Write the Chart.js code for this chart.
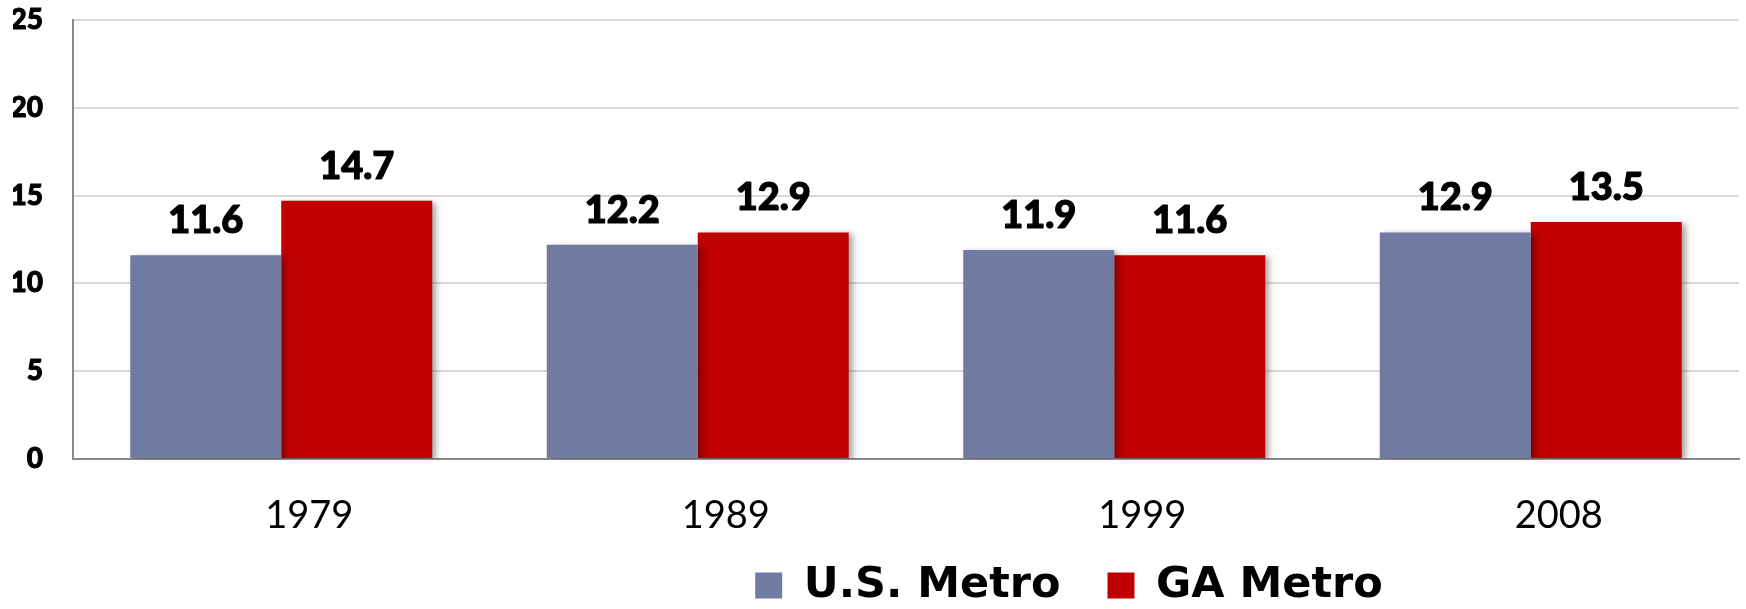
<!DOCTYPE html>
<html>
<head>
<meta charset="utf-8">
<script src="https://cdn.jsdelivr.net/npm/chart.js@4.4.1/dist/chart.umd.min.js"></script>
<style>
  html, body { margin: 0; padding: 0; background: #ffffff; }
  #wrap { width: 1746px; height: 609px; position: relative; }
</style>
</head>
<body>
<div id="wrap"><canvas id="c" width="1746" height="609"></canvas></div>
<script>
const categories = ['1979', '1989', '1999', '2008'];
const usMetro = [11.6, 12.2, 11.9, 12.9];
const gaMetro = [14.7, 12.9, 11.6, 13.5];
const seriesNames = ['U.S. Metro', 'GA Metro'];
const yTicks = [0, 5, 10, 15, 20, 25];

const US_COLOR = '#717ba2';
const GA_COLOR = '#c00000';
const LEGEND_SHIFT_X = 193;
const LEGEND_SHIFT_Y = -22;

const shadowPlugin = {
  id: 'barShadow',
  beforeDatasetsDraw(chart) {
    const ctx = chart.ctx;
    ctx.save();
    ctx.shadowColor = 'rgba(0,0,0,0.35)';
    ctx.shadowBlur = 6;
    ctx.shadowOffsetX = 4;
    ctx.shadowOffsetY = 2;
  },
  afterDatasetsDraw(chart) {
    const ctx = chart.ctx;
    ctx.restore();
    ctx.save();
    ctx.font = '900 38px Lato';
    ctx.fillStyle = '#000000';
    ctx.strokeStyle = '#000000';
    ctx.lineWidth = 1.2;
    ctx.lineJoin = 'round';
    ctx.textAlign = 'center';
    ctx.textBaseline = 'alphabetic';
    chart.data.datasets.forEach((ds, i) => {
      const meta = chart.getDatasetMeta(i);
      meta.data.forEach((bar, j) => {
        const t = ds.data[j].toFixed(1);
        ctx.fillText(t, bar.x, bar.y - 22);
        ctx.strokeText(t, bar.x, bar.y - 22);
      });
    });
    ctx.restore();
  }
};

const legendShiftPlugin = {
  id: 'legendShift',
  beforeDraw(chart) {
    const L = chart.legend;
    if (!L) return;
    L.left += LEGEND_SHIFT_X; L.right += LEGEND_SHIFT_X;
    L.top += LEGEND_SHIFT_Y;
  },
  afterDraw(chart) {
    const L = chart.legend;
    if (!L) return;
    L.left -= LEGEND_SHIFT_X; L.right -= LEGEND_SHIFT_X;
    L.top -= LEGEND_SHIFT_Y;
  }
};

new Chart(document.getElementById('c'), {
  type: 'bar',
  data: {
    labels: categories,
    datasets: [
      { label: seriesNames[0], data: usMetro, backgroundColor: US_COLOR, borderWidth: 0 },
      { label: seriesNames[1], data: gaMetro, backgroundColor: GA_COLOR, borderWidth: 0 }
    ]
  },
  options: {
    responsive: false,
    animation: false,
    devicePixelRatio: 1,
    datasets: { bar: { categoryPercentage: 0.725, barPercentage: 1.0 } },
    layout: { padding: { left: 13, right: 7, top: 20, bottom: 0 } },
    plugins: {
      tooltip: { enabled: false },
      legend: {
        position: 'bottom',
        maxHeight: 70,
        labels: {
          boxWidth: 27,
          boxHeight: 26,
          padding: 47,
          color: '#000000',
          font: { family: 'DejaVu Sans', weight: 'bold', size: 43 }
        }
      }
    },
    scales: {
      x: {
        grid: { display: false, drawTicks: false },
        border: { display: true, color: '#898989', width: 2 },
        ticks: {
          color: '#000000',
          font: { family: 'Lato', size: 38 },
          padding: 34,
          labelOffset: 28,
          maxRotation: 0
        },
        afterFit(scale) {
          scale.height = 80;
          scale.paddingLeft = 0;
          scale.paddingRight = 0;
        }
      },
      y: {
        min: 0,
        max: 25,
        afterBuildTicks(scale) { scale.ticks = yTicks.map(v => ({ value: v })); },
        grid: {
          drawTicks: false,
          lineWidth: 2,
          color: (c) => (c.tick && c.tick.value === 0 ? '#898989' : '#d9d9d9')
        },
        border: { display: true, color: '#898989', width: 2 },
        ticks: {
          color: '#000000',
          font: { family: 'Lato', weight: '900', size: 28 },
          textStrokeColor: '#000000',
          textStrokeWidth: 1,
          padding: 30
        },
        afterFit(scale) {
          scale.width = 60;
          scale.paddingTop = 0;
          scale.paddingBottom = 0;
        }
      }
    }
  },
  plugins: [shadowPlugin, legendShiftPlugin]
});
</script>
</body>
</html>
